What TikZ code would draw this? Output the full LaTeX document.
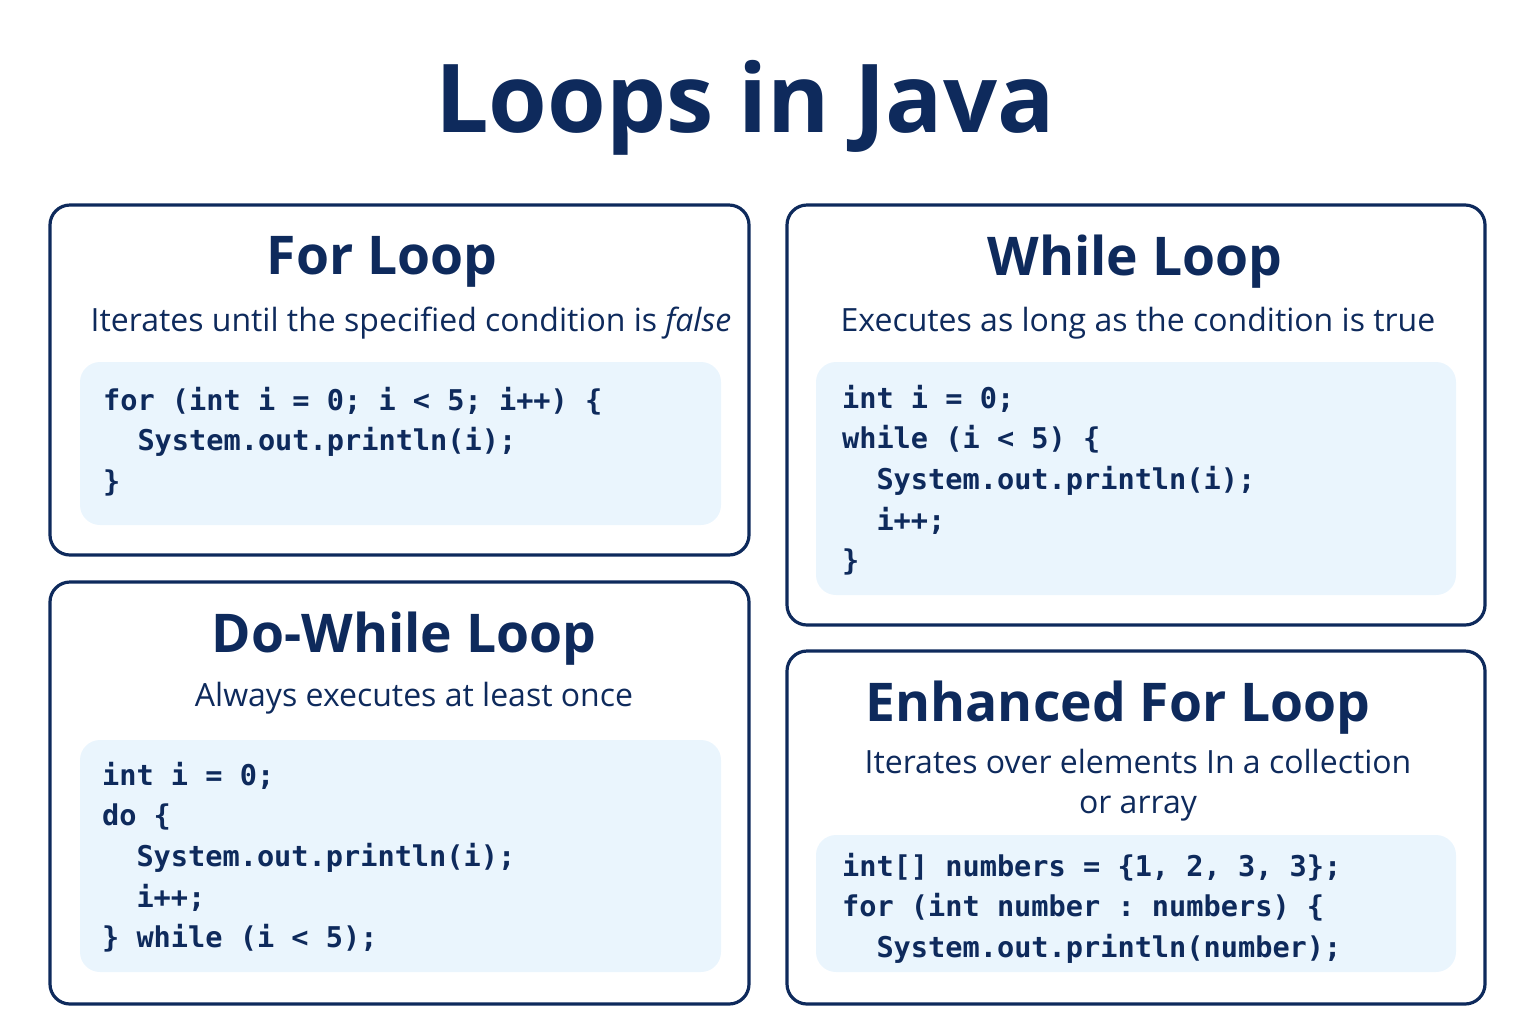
\documentclass[tikz,border=0pt]{standalone}
\usepackage{fontspec}
\setmainfont{Open Sans}
\setmonofont{DejaVu Sans Mono}
\definecolor{navy}{HTML}{0E2A5C}
\definecolor{codebg}{HTML}{EAF5FD}
\begin{document}
\begin{tikzpicture}[x=0.5pt,y=-0.5pt,
  card/.style={draw=navy,line width=1.6pt,rounded corners=10pt},
  codebox/.style={fill=codebg,rounded corners=10pt},
  ttl/.style={text=navy,font=\fontsize{26.7}{30}\selectfont\bfseries},
  sub/.style={text=navy,font=\fontsize{16}{20}\selectfont,align=center},
  code/.style={text=navy,anchor=north west,align=left,font=\fontsize{14.3}{20.3}\selectfont\ttfamily\bfseries}]
\useasboundingbox (0,0) rectangle (1536,1024);
\node[text=navy,font=\fontsize{47.5}{52}\selectfont\bfseries] (title) at (745,108) {Loops in Java};
% For
\draw[card] (50,205) rectangle (749,555);
\fill[codebox] (80,362) rectangle (721,525);
\node[ttl] (t1) at (382,262) {For Loop};
\node[sub] (s1) at (411,323) {Iterates until the specified condition is \textit{false}};
\node[code] (c1) at (96,380) {for (int i = 0; i < 5; i++) \{\\\ \ System.out.println(i);\\\}};
% While
\draw[card] (787,205) rectangle (1485,625);
\fill[codebox] (816,362) rectangle (1456,595);
\node[ttl] (t2) at (1135,262) {While Loop};
\node[sub] (s2) at (1138,323) {Executes as long as the condition is true};
\node[code] (c2) at (835,378) {int i = 0;\\while (i < 5) \{\\\ \ System.out.println(i);\\\ \ i++;\\\}};
% Do-While
\draw[card] (50,582) rectangle (749,1004);
\fill[codebox] (80,740) rectangle (721,972);
\node[ttl] (t3) at (404,639) {Do-While Loop};
\node[sub] (s3) at (414,698) {Always executes at least once};
\node[code] (c3) at (95,755) {int i = 0;\\do \{\\\ \ System.out.println(i);\\\ \ i++;\\\} while (i < 5);};
% Enhanced
\draw[card] (787,651) rectangle (1485,1004);
\fill[codebox] (816,835) rectangle (1456,972);
\node[ttl] (t4) at (1118,708) {Enhanced For Loop};
\node[sub] (s4) at (1138,785) {Iterates over elements In a collection\\or array};
\node[code] (c4) at (835,846) {int[] numbers = \{1, 2, 3, 3\};\\for (int number : numbers) \{\\\ \ System.out.println(number);};
\end{tikzpicture}
\end{document}
